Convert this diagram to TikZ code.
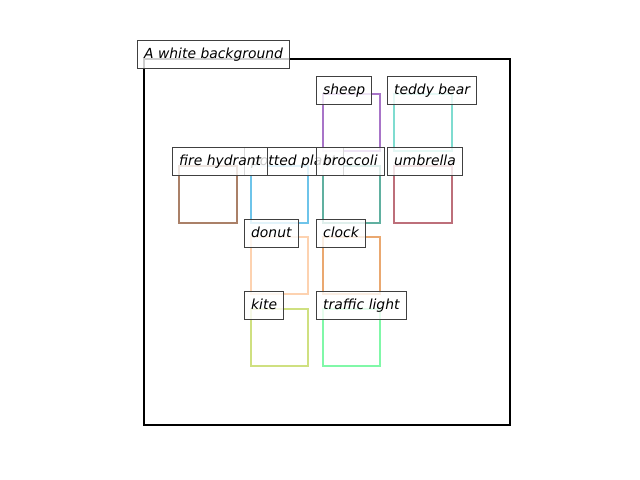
\documentclass[tikz,border=0pt]{standalone}
\usepackage{fontspec}
\setmainfont{DejaVu Sans}
\usepackage{tikz}
\usetikzlibrary{positioning}

\definecolor{hydrantc}{RGB}{170,128,104}
\definecolor{plantc}{RGB}{110,196,234}
\definecolor{broccolic}{RGB}{96,176,160}
\definecolor{umbrellac}{RGB}{189,111,122}
\definecolor{sheepc}{RGB}{168,116,200}
\definecolor{teddyc}{RGB}{127,220,208}
\definecolor{donutc}{RGB}{253,210,176}
\definecolor{clockc}{RGB}{234,168,112}
\definecolor{kitec}{RGB}{207,224,128}
\definecolor{lightc}{RGB}{128,248,168}

\begin{document}
\begin{tikzpicture}[x=0.72pt, y=-0.72pt,
  tag/.style={anchor=north west, draw=black!75, line width=0.72pt,
    fill=white, fill opacity=0.8, text opacity=1,
    font=\itshape, inner xsep=4.8pt, inner ysep=5.1pt,
    text height=7.6pt, text depth=2.4pt},
  objbox/.style={line width=1.9pt}]
  \useasboundingbox (0,0) rectangle (640,480);
  % frame
  \draw[line width=1.5pt] (144,59) rectangle (510,425);
  % boxes
  \draw[objbox, sheepc]     (323,94)  rectangle (380,151);
  \draw[objbox, teddyc]     (394,94)  rectangle (452,151);
  \draw[objbox, hydrantc]   (179,166) rectangle (237,223);
  \draw[objbox, plantc]     (251,166) rectangle (308,223);
  \draw[objbox, broccolic]  (323,166) rectangle (380,223);
  \draw[objbox, umbrellac]  (394,166) rectangle (452,223);
  \draw[objbox, donutc]     (251,237) rectangle (308,294);
  \draw[objbox, clockc]     (323,237) rectangle (380,294);
  \draw[objbox, kitec]      (251,309) rectangle (308,366);
  \draw[objbox, lightc]     (323,309) rectangle (380,366);
  % labels
  \node[tag] (bg)      at (137,40)  {A white background};
  \node[tag] (sheep)   at (316,76)  {sheep};
  \node[tag] (teddy)   at (387,76)  {teddy bear};
  \node[tag] (plant)   at (244,147) {potted plant};
  \node[tag] (hydrant) at (172,147) {fire hydrant};
  \node[tag] (broccoli) at (316,147) {broccoli};
  \node[tag] (umbrella) at (387,147) {umbrella};
  \node[tag] (donut)   at (244,219) {donut};
  \node[tag] (clock)   at (316,219) {clock};
  \node[tag] (kite)    at (244,291) {kite};
  \node[tag] (light)   at (316,291) {traffic light};
\end{tikzpicture}
\end{document}
